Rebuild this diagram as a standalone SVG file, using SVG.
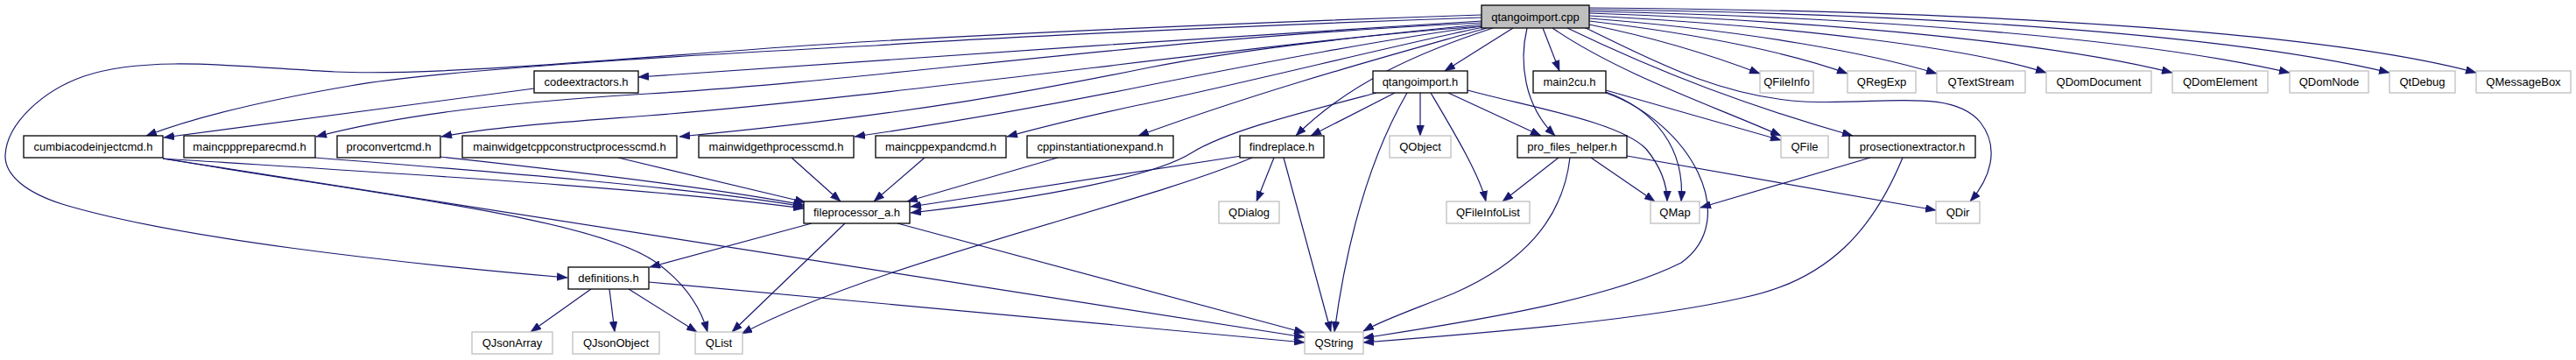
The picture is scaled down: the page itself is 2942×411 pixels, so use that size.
<svg xmlns="http://www.w3.org/2000/svg" width="2942" height="411" viewBox="0 0 2942 411">
<style>
.n rect{fill:#fff;stroke:#000;stroke-width:1.3}
.x rect{fill:#fff;stroke:#bfbfbf;stroke-width:1.3}
.r rect{fill:#bfbfbf;stroke:#000;stroke-width:1.3}
text{font-family:"Liberation Sans",Arial,sans-serif;font-size:13px;fill:#000;text-anchor:middle}
#edges path{fill:none;stroke:#191970;stroke-width:1.2;marker-end:url(#ah)}
</style>
<defs>
<marker id="ah" markerWidth="12" markerHeight="9" refX="12" refY="4.5" orient="auto" markerUnits="userSpaceOnUse">
<path d="M0,0 L12,4.5 L0,9 z" fill="#191970" stroke="#191970" stroke-width="0.5"/>
</marker>
</defs>
<rect width="2942" height="411" fill="#fff"/>
<g id="edges">
<path d="M1692,17 C1450,25 1200,36 1000,47 C800,58 520,88 383,82 C280,77 170,62 96,87 C50,103 8,140 6,177 C5,200 30,220 71,233 C200,272 450,300 648,317"/>
<path d="M1692,20 C1400,30 1100,45 1000,52 C800,62 500,80 400,98 C300,115 220,135 167,155"/>
<path d="M1692,24 C1400,42 1000,68 729,88"/>
<path d="M1692,26 C1300,45 1000,92 740,107 C560,118 450,133 361,156"/>
<path d="M1692,28 C1400,55 1000,112 740,132 C650,139 560,145 504,156"/>
<path d="M1692,30 C1550,40 1400,60 1313,77 C1200,100 1050,130 776,156"/>
<path d="M1692,30 C1580,45 1450,70 1313,97 C1200,120 1100,138 976,156"/>
<path d="M1694,31 C1600,50 1400,100 1300,120 C1230,135 1190,145 1150,156"/>
<path d="M1698,32 C1600,60 1450,100 1300,155"/>
<path d="M1705,32 C1620,60 1540,95 1480,155"/>
<path d="M1728,32 L1650,81"/>
<path d="M1744,32 C1735,70 1740,120 1776,155"/>
<path d="M1762,32 L1781,81"/>
<path d="M1773,32 C1850,85 1960,122 2034,155"/>
<path d="M1790,32 C1900,85 2000,122 2116,155"/>
<path d="M1807,30 C1880,65 1960,110 2060,116 C2150,120 2230,100 2262,140 C2285,170 2272,205 2250,230"/>
<path d="M1815,28 C1900,45 1960,65 2010,84"/>
<path d="M1815,24 C1950,40 2050,62 2110,84"/>
<path d="M1815,21 C2000,35 2140,62 2212,84"/>
<path d="M1815,18 C2050,30 2250,55 2337,83"/>
<path d="M1815,15 C2100,25 2350,50 2481,83"/>
<path d="M1815,13 C2150,20 2450,45 2615,83"/>
<path d="M1815,11 C2200,15 2550,40 2729,83"/>
<path d="M1815,9 C2250,12 2650,35 2828,83"/>
<path d="M1572,106 C1480,130 1400,150 1360,175 C1320,200 1200,225 1040,243"/>
<path d="M1593,106 L1497,155"/>
<path d="M1622,106 L1622,155"/>
<path d="M1607,106 C1570,170 1540,260 1524,379"/>
<path d="M1634,106 C1660,150 1690,200 1697,230"/>
<path d="M1654,106 L1760,155"/>
<path d="M1676,103 C1760,125 1850,140 1880,170 C1898,192 1904,212 1904,230"/>
<path d="M1834,103 L2034,160"/>
<path d="M1834,105 C1890,125 1925,170 1920,230"/>
<path d="M1834,106 C1930,140 1990,250 1920,300 C1830,345 1660,370 1557,386"/>
<path d="M1780,180 L1716,230"/>
<path d="M1793,180 C1785,250 1740,300 1660,335 C1610,355 1580,365 1557,378"/>
<path d="M1817,180 L1890,230"/>
<path d="M1858,178 L2211,240"/>
<path d="M2136,180 L1942,237"/>
<path d="M2173,180 C2140,260 2090,320 1990,340 C1880,365 1700,380 1557,391"/>
<path d="M1418,178 L1040,236"/>
<path d="M1455,180 L1435,230"/>
<path d="M1466,180 L1520,379"/>
<path d="M1430,180 C1300,235 1000,300 847,381"/>
<path d="M1208,180 L1036,230"/>
<path d="M1056,180 L998,230"/>
<path d="M904,180 L960,230"/>
<path d="M706,180 L920,231"/>
<path d="M503,179 C650,195 820,215 918,234"/>
<path d="M360,180 C550,195 800,215 918,236"/>
<path d="M186,181 C450,198 750,215 918,238"/>
<path d="M186,181 C450,225 680,250 750,300 C780,322 800,350 808,379"/>
<path d="M186,181 L1490,385"/>
<path d="M610,101 L187,157"/>
<path d="M927,255 L742,305"/>
<path d="M965,255 L836,379"/>
<path d="M1025,255 L1490,380"/>
<path d="M675,330 L606,379"/>
<path d="M696,330 L702,379"/>
<path d="M718,330 L796,379"/>
<path d="M741,322 L1490,391"/>
</g>
<g id="qtangoimport_cpp" class="r"><rect x="1692" y="6" width="123" height="26"/><text x="1753.5" y="23.5">qtangoimport.cpp</text></g>
<g id="codeextractors_h" class="n"><rect x="610" y="81" width="119" height="25"/><text x="669.5" y="98">codeextractors.h</text></g>
<g id="qtangoimport_h" class="n"><rect x="1568" y="81" width="108" height="25"/><text x="1622" y="98">qtangoimport.h</text></g>
<g id="main2cu_h" class="n"><rect x="1751" y="81" width="83" height="25"/><text x="1792.5" y="98">main2cu.h</text></g>
<g id="QFileInfo" class="x"><rect x="2010" y="81" width="61" height="25"/><text x="2040.5" y="98">QFileInfo</text></g>
<g id="QRegExp" class="x"><rect x="2110" y="81" width="78" height="25"/><text x="2149" y="98">QRegExp</text></g>
<g id="QTextStream" class="x"><rect x="2212" y="81" width="101" height="25"/><text x="2262.5" y="98">QTextStream</text></g>
<g id="QDomDocument" class="x"><rect x="2337" y="81" width="120" height="25"/><text x="2397" y="98">QDomDocument</text></g>
<g id="QDomElement" class="x"><rect x="2481" y="81" width="109" height="25"/><text x="2535.5" y="98">QDomElement</text></g>
<g id="QDomNode" class="x"><rect x="2615" y="81" width="90" height="25"/><text x="2660" y="98">QDomNode</text></g>
<g id="QtDebug" class="x"><rect x="2729" y="81" width="75" height="25"/><text x="2766.5" y="98">QtDebug</text></g>
<g id="QMessageBox" class="x"><rect x="2828" y="81" width="108" height="25"/><text x="2882" y="98">QMessageBox</text></g>
<g id="cumbiacodeinjectcmd_h" class="n"><rect x="27" y="155" width="159" height="25"/><text x="106.5" y="172">cumbiacodeinjectcmd.h</text></g>
<g id="maincpppreparecmd_h" class="n"><rect x="210" y="155" width="150" height="25"/><text x="285" y="172">maincpppreparecmd.h</text></g>
<g id="proconvertcmd_h" class="n"><rect x="385" y="155" width="118" height="25"/><text x="444" y="172">proconvertcmd.h</text></g>
<g id="mainwidgetcppconstructprocesscmd_h" class="n"><rect x="528" y="155" width="245" height="25"/><text x="650.5" y="172">mainwidgetcppconstructprocesscmd.h</text></g>
<g id="mainwidgethprocesscmd_h" class="n"><rect x="798" y="155" width="177" height="25"/><text x="886.5" y="172">mainwidgethprocesscmd.h</text></g>
<g id="maincppexpandcmd_h" class="n"><rect x="1000" y="155" width="149" height="25"/><text x="1074.5" y="172">maincppexpandcmd.h</text></g>
<g id="cppinstantiationexpand_h" class="n"><rect x="1173" y="155" width="167" height="25"/><text x="1256.5" y="172">cppinstantiationexpand.h</text></g>
<g id="findreplace_h" class="n"><rect x="1416" y="155" width="96" height="25"/><text x="1464" y="172">findreplace.h</text></g>
<g id="QObject" class="x"><rect x="1587" y="155" width="70" height="25"/><text x="1622" y="172">QObject</text></g>
<g id="pro_files_helper_h" class="n"><rect x="1733" y="155" width="125" height="25"/><text x="1795.5" y="172">pro_files_helper.h</text></g>
<g id="QFile" class="x"><rect x="2034" y="155" width="54" height="25"/><text x="2061" y="172">QFile</text></g>
<g id="prosectionextractor_h" class="n"><rect x="2112" y="155" width="144" height="25"/><text x="2184" y="172">prosectionextractor.h</text></g>
<g id="fileprocessor_a_h" class="n"><rect x="918" y="230" width="121" height="25"/><text x="978.5" y="247">fileprocessor_a.h</text></g>
<g id="QDialog" class="x"><rect x="1392" y="230" width="69" height="25"/><text x="1426.5" y="247">QDialog</text></g>
<g id="QFileInfoList" class="x"><rect x="1652" y="230" width="95" height="25"/><text x="1699.5" y="247">QFileInfoList</text></g>
<g id="QMap" class="x"><rect x="1885" y="230" width="56" height="25"/><text x="1913" y="247">QMap</text></g>
<g id="QDir" class="x"><rect x="2211" y="230" width="50" height="25"/><text x="2236" y="247">QDir</text></g>
<g id="definitions_h" class="n"><rect x="649" y="305" width="92" height="25"/><text x="695" y="322">definitions.h</text></g>
<g id="QJsonArray" class="x"><rect x="539" y="379" width="92" height="25"/><text x="585" y="396">QJsonArray</text></g>
<g id="QJsonObject" class="x"><rect x="654" y="379" width="99" height="25"/><text x="703.5" y="396">QJsonObject</text></g>
<g id="QList" class="x"><rect x="794" y="379" width="54" height="25"/><text x="821" y="396">QList</text></g>
<g id="QString" class="x"><rect x="1490" y="379" width="67" height="25"/><text x="1523.5" y="396">QString</text></g>
</svg>
